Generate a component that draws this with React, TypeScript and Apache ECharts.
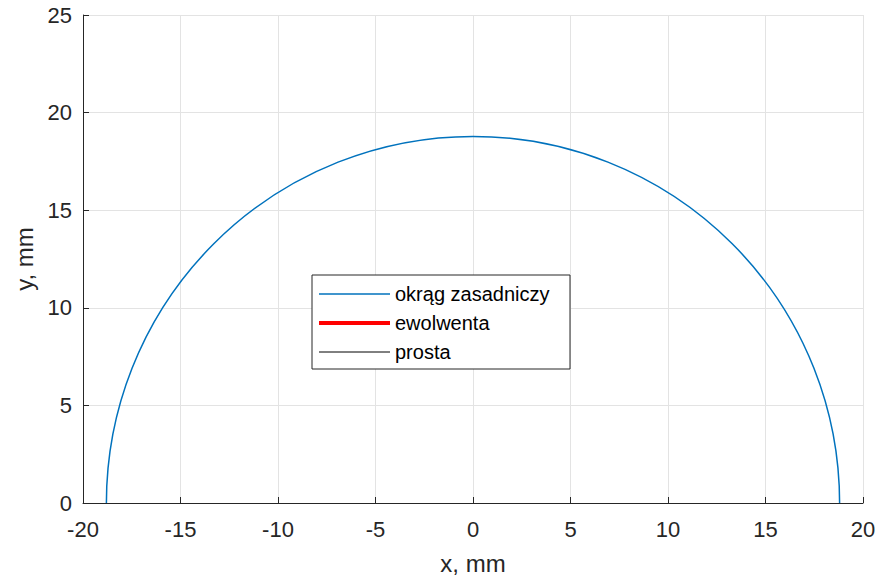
import React, { useEffect, useRef } from "react";
import * as echarts from "echarts";

// Data
const circleCenter = [0, 0];
const circleRadius = 18.8; // mm
const xTicks = { min: -20, max: 20, interval: 5 };
const yTicks = { min: 0, max: 25, interval: 5 };
const legendNames = ["okrąg zasadniczy", "ewolwenta", "prosta"];
const legendColors = ["#0072BD", "#FF0000", "#000000"];
const legendWidths = [1.5, 4, 1];
const xLabel = "x, mm";
const yLabel = "y, mm";

const FONT = "'Liberation Sans', Arial, Helvetica, sans-serif";
const TXT = "#262626";

export default function App() {
  const ref = useRef<HTMLDivElement>(null);
  useEffect(() => {
    if (!ref.current) return;
    const chart = echarts.init(ref.current, undefined, { renderer: "svg" });
    const gl = 83, gt = 15, gw = 780, gh = 488;
    const lx = 312, ly = 275, lw = 258, lh = 94;
    const rowY = [294, 323, 352];
    const legendGraphics: any[] = [
      {
        type: "rect",
        shape: { x: lx, y: ly, width: lw, height: lh },
        style: { fill: "#fff", stroke: "#262626", lineWidth: 1 },
        z: 100,
      },
    ];
    legendNames.forEach((n, i) => {
      legendGraphics.push({
        type: "line",
        shape: { x1: 319, y1: rowY[i], x2: 390, y2: rowY[i] },
        style: { stroke: legendColors[i], lineWidth: legendWidths[i] },
        z: 101,
      });
      legendGraphics.push({
        type: "text",
        x: 395,
        y: rowY[i],
        style: {
          text: n,
          fill: "#000",
          font: `20px ${FONT}`,
          textVerticalAlign: "middle",
          textAlign: "left",
        },
        z: 101,
      });
    });
    chart.setOption({
      animation: false,
      backgroundColor: "#fff",
      grid: { left: gl, top: gt, width: gw, height: gh, show: false, containLabel: false, outerBoundsMode: "none" },
      xAxis: {
        type: "value",
        min: xTicks.min,
        max: xTicks.max,
        interval: xTicks.interval,
        name: xLabel,
        nameLocation: "middle",
        nameGap: 48,
        nameTextStyle: { color: TXT, fontSize: 24, fontFamily: FONT },
        axisLine: { show: true, onZero: false, lineStyle: { color: TXT, width: 1 } },
        axisTick: { show: true, inside: true, length: 6, lineStyle: { color: TXT } },
        axisLabel: { color: TXT, fontSize: 22, fontFamily: FONT, margin: 15 },
        splitLine: { show: true, lineStyle: { color: "#e3e3e3", width: 1 } },
      },
      yAxis: {
        type: "value",
        min: yTicks.min,
        max: yTicks.max,
        interval: yTicks.interval,
        name: yLabel,
        nameLocation: "middle",
        nameGap: 46,
        nameTextStyle: { color: TXT, fontSize: 24, fontFamily: FONT },
        axisLine: { show: true, onZero: false, lineStyle: { color: TXT, width: 1 } },
        axisTick: { show: true, inside: true, length: 6, lineStyle: { color: TXT } },
        axisLabel: { color: TXT, fontSize: 22, fontFamily: FONT, margin: 11 },
        splitLine: { show: true, lineStyle: { color: "#e3e3e3", width: 1 } },
      },
      series: [
        {
          name: legendNames[0],
          type: "custom",
          data: [[circleCenter[0], circleCenter[1], circleRadius]],
          renderItem: (params: any, api: any) => {
            const c = api.coord([api.value(0), api.value(1)]);
            const r = api.size([api.value(2), 0])[0];
            return {
              type: "arc",
              shape: { cx: c[0], cy: c[1], r, startAngle: Math.PI, endAngle: 2 * Math.PI, clockwise: true },
              style: { stroke: legendColors[0], lineWidth: legendWidths[0], fill: "none" },
            };
          },
          z: 5,
        },
        { name: legendNames[1], type: "line", data: [], lineStyle: { color: legendColors[1], width: legendWidths[1] } },
        { name: legendNames[2], type: "line", data: [], lineStyle: { color: legendColors[2], width: legendWidths[2] } },
      ],
      graphic: legendGraphics,
    });
    return () => chart.dispose();
  }, []);
  return <div ref={ref} style={{ position: "absolute", left: 0, top: 0, width: 890, height: 576 }} />;
}
